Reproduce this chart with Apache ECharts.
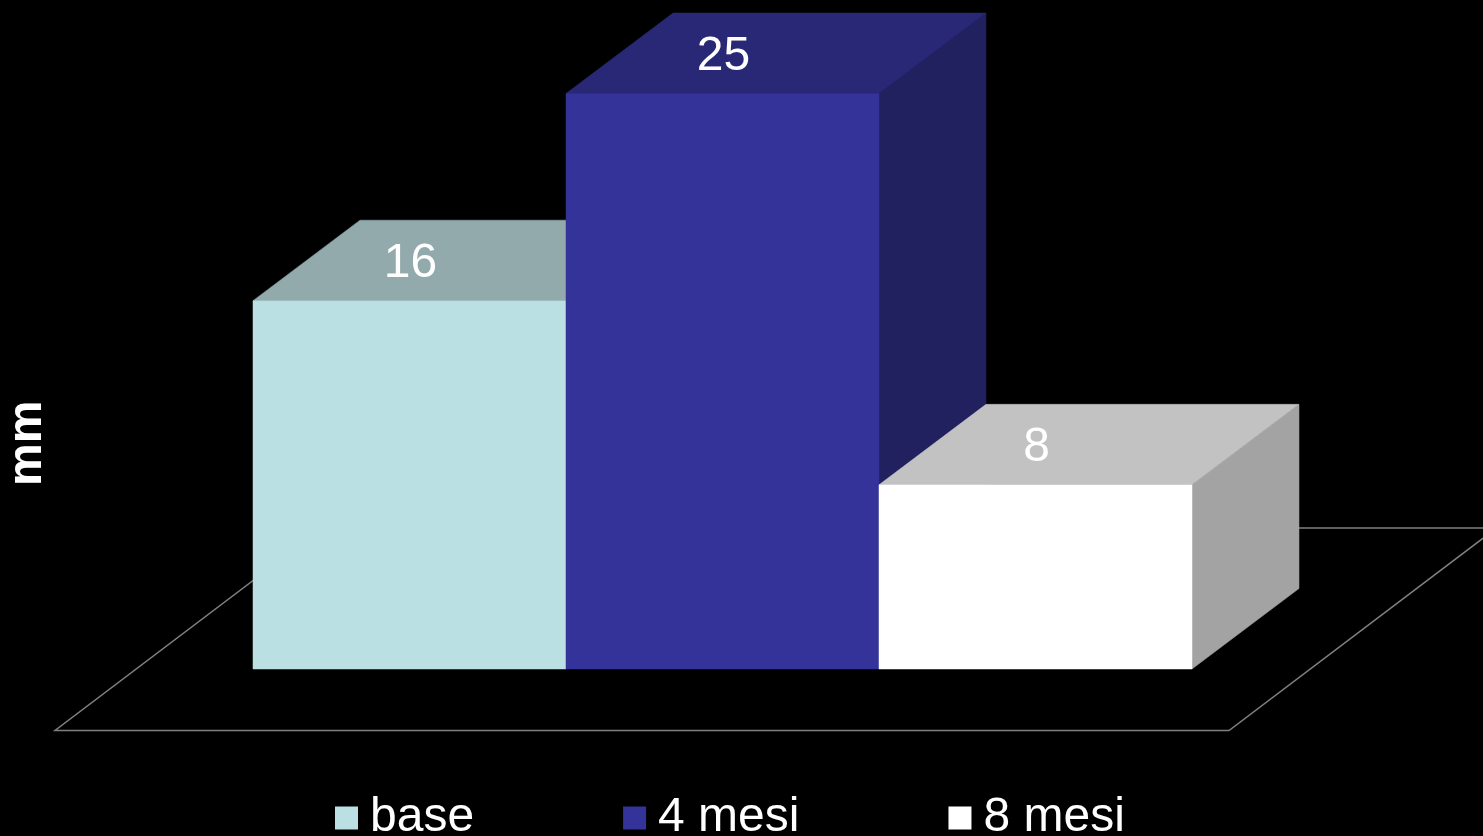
<!DOCTYPE html>
<html>
<head>
<meta charset="utf-8">
<style>html,body{margin:0;padding:0;background:#000}#c{width:1483px;height:836px}</style>
<script src="https://cdn.jsdelivr.net/npm/echarts@6/dist/echarts.min.js"></script>
</head>
<body>
<div id="c"></div>
<script>
var categories = ['base', '4 mesi', '8 mesi'];
var values = [16, 25, 8];
var frontColors = ['#BAE0E3', '#333399', '#FFFFFF'];
var topColors = ['#93AAAD', '#282877', '#C2C2C2'];
var sideColors = ['#7F9496', '#21215F', '#A3A3A3'];
var axisName = 'mm';
var depthX = 107, depthY = 80.5;
var FONT = '"Liberation Sans", Arial, sans-serif';

var chart = echarts.init(document.getElementById('c'), null, {renderer: 'canvas'});

function poly(points, fill) {
  return {type: 'polygon', shape: {points: points}, style: {fill: fill, stroke: fill, lineWidth: 0.5}};
}

function renderBar(idx) {
  return function (params, api) {
    var top = api.coord([api.value(0), api.value(1)]);
    var base = api.coord([api.value(0), 0]);
    var w = api.size([1, 0])[0];
    var l = top[0] - w / 2, r = top[0] + w / 2, t = top[1], b = base[1];
    return {
      type: 'group',
      children: [
        poly([[r, t], [r + depthX, t - depthY], [r + depthX, b - depthY], [r, b]], sideColors[idx]),
        poly([[l, t], [l + depthX, t - depthY], [r + depthX, t - depthY], [r, t]], topColors[idx]),
        poly([[l, t], [r, t], [r, b], [l, b]], frontColors[idx]),
        {type: 'text', style: {
          text: String(api.value(1)), x: top[0] + 1, y: t - depthY / 2 + 3.5,
          fill: '#FFFFFF', font: '48px ' + FONT, align: 'center', verticalAlign: 'middle'
        }}
      ]
    };
  };
}

function renderFloor(params, api) {
  var a = api.coord([0, 0]);
  var c = api.coord([categories.length - 1, 0]);
  var w = api.size([1, 0])[0];
  var fl = a[0] - w / 2 - 198, fr = c[0] + w / 2 + 37, fy = a[1] + 61.5, by = a[1] - 141;
  var dx = (fy - by) * 107 / 81;
  return {
    type: 'polygon',
    shape: {points: [[fl, fy], [fr, fy], [fr + dx, by], [fl + dx, by]]},
    style: {fill: 'none', stroke: '#808080', lineWidth: 1.5}
  };
}

var series = [{
  type: 'custom', name: 'floor', silent: true, z: 1,
  coordinateSystem: 'cartesian2d', clip: false,
  data: [[0, 0]], renderItem: renderFloor, encode: {x: 0, y: 1}
}];
categories.forEach(function (name, i) {
  series.push({
    type: 'custom', name: name, z: 2 + i,
    coordinateSystem: 'cartesian2d', clip: false,
    itemStyle: {color: frontColors[i]},
    data: [[i, values[i]]], renderItem: renderBar(i), encode: {x: 0, y: 1}
  });
});

chart.setOption({
  backgroundColor: '#000000',
  animation: false,
  grid: {left: 253, top: 93.5, width: 939, height: 575.5, containLabel: false, outerBoundsMode: 'none'},
  xAxis: {type: 'category', data: categories, show: false},
  yAxis: {
    type: 'value', min: 0, max: 25,
    name: axisName, nameLocation: 'middle', nameRotate: 90, nameGap: 201,
    nameTextStyle: {color: '#FFFFFF', fontSize: 48, fontWeight: 'bold', fontFamily: FONT, padding: [0, 124, 0, 0]},
    axisLine: {show: false}, axisTick: {show: false}, axisLabel: {show: false}, splitLine: {show: false}
  },
  legend: {
    data: categories, left: 335, top: 794, icon: 'rect', itemWidth: 23, itemHeight: 23, itemGap: 149,
    padding: 0, selectedMode: false,
    textStyle: {color: '#FFFFFF', fontSize: 48, fontFamily: FONT, padding: [0, 0, 0, 7]}
  },
  series: series
});
</script>
</body>
</html>
